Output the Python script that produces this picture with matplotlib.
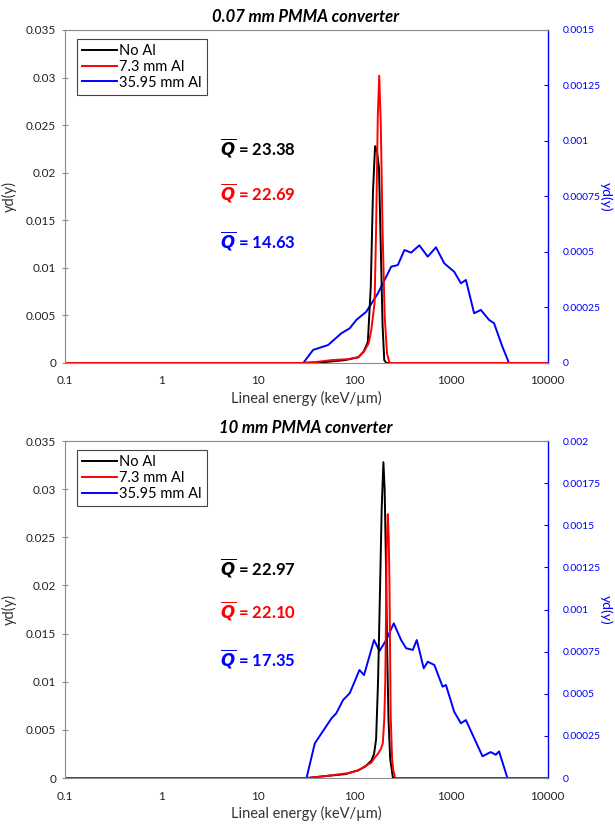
import numpy as np
import matplotlib
matplotlib.use("Agg")
import matplotlib.pyplot as plt

plt.rcParams['font.family'] = ['Lato', 'DejaVu Sans']
plt.rcParams['mathtext.fontset'] = 'dejavusans'

# ---- top panel: 0.07 mm PMMA converter ----
top_black_x = [0.1, 30, 50, 80, 110, 125, 138, 148, 156, 164, 172, 180, 188, 196, 204, 215, 10000]
top_black_y = [0, 0, 0.0001, 0.0003, 0.0006, 0.0012, 0.0022, 0.008, 0.018, 0.0228, 0.0222, 0.0205, 0.012, 0.004, 0.0003, 0, 0]

top_red_x = [0.1, 28, 40, 58, 86, 110, 126, 141, 150, 162, 168, 175, 181, 188, 196, 206, 218, 231, 10000]
top_red_y = [0, 0, 0.0001, 0.0003, 0.0004, 0.0006, 0.0012, 0.0021, 0.0035, 0.0063, 0.014, 0.026, 0.0302, 0.025, 0.014, 0.005, 0.001, 0, 0]

top_blue_x = [0.1, 29.6, 37.5, 53.6, 73.5, 89.5, 105, 133, 175, 241, 282, 330, 387, 471, 575,
              700, 853, 1081, 1268, 1429, 1738, 2038, 2483, 2795, 3412, 3990, 10000]
top_blue_y = [0, 0, 5.9e-5, 8.1e-5, 1.34e-4, 1.56e-4, 1.94e-4, 2.31e-4, 3.13e-4, 4.34e-4, 4.41e-4,
              5.09e-4, 4.97e-4, 5.3e-4, 4.79e-4, 5.21e-4, 4.49e-4, 4.11e-4, 3.59e-4, 3.74e-4,
              2.24e-4, 2.39e-4, 1.94e-4, 1.79e-4, 7.3e-5, 0, 0]

# ---- bottom panel: 10 mm PMMA converter ----
bot_black_x = [0.1, 32, 50, 80, 110, 130, 150, 160, 168, 176, 184, 192, 200, 206, 212, 219, 226, 235, 251, 10000]
bot_black_y = [0, 0, 0.0002, 0.0004, 0.0008, 0.0012, 0.0018, 0.0025, 0.004, 0.010, 0.019, 0.028, 0.0328,
               0.030, 0.023, 0.013, 0.006, 0.002, 0, 0]

bot_red_x = [0.1, 33, 50, 86, 110, 128, 150, 162, 175, 188, 197, 204, 209, 213, 216, 222, 227, 231,
             238, 246, 253, 265, 10000]
bot_red_y = [0, 0, 0.0002, 0.0005, 0.0008, 0.0012, 0.0016, 0.0021, 0.0025, 0.003, 0.0036, 0.006,
             0.0099, 0.017, 0.0237, 0.0274, 0.025, 0.0203, 0.0064, 0.002, 0.0008, 0, 0]

bot_blue_x = [0.1, 32, 39, 45.7, 58, 65, 76.5, 89.6, 113, 126, 160, 182, 214, 256, 305, 344, 403, 443,
              523, 575, 673, 820, 888, 1081, 1268, 1429, 1738, 2122, 2583, 2911, 3148, 3846, 10000]
bot_blue_y = [0, 0, 2.06e-4, 2.65e-4, 3.54e-4, 3.84e-4, 4.63e-4, 5.03e-4, 6.41e-4, 6.11e-4, 8.19e-4,
              7.54e-4, 8.19e-4, 9.18e-4, 8.19e-4, 7.7e-4, 7.6e-4, 8.19e-4, 6.51e-4, 6.9e-4, 6.71e-4,
              5.42e-4, 5.52e-4, 3.93e-4, 3.25e-4, 3.44e-4, 2.37e-4, 1.29e-4, 1.54e-4, 1.38e-4,
              1.58e-4, 0, 0]

labels = ["No Al", "7.3 mm Al", "35.95 mm Al"]
qbar_top = ["23.38", "22.69", "14.63"]
qbar_bot = ["22.97", "22.10", "17.35"]

left_ticks = [0, 0.005, 0.01, 0.015, 0.02, 0.025, 0.03, 0.035]
left_ticklabels = ["0", "0.005", "0.01", "0.015", "0.02", "0.025", "0.03", "0.035"]
top_right_ticks = [0, 0.00025, 0.0005, 0.00075, 0.001, 0.00125, 0.0015]
top_right_labels = ["0", "0.00025", "0.0005", "0.00075", "0.001", "0.00125", "0.0015"]
bot_right_ticks = [0, 0.00025, 0.0005, 0.00075, 0.001, 0.00125, 0.0015, 0.00175, 0.002]
bot_right_labels = ["0", "0.00025", "0.0005", "0.00075", "0.001", "0.00125", "0.0015", "0.00175", "0.002"]
x_ticks = [0.1, 1, 10, 100, 1000, 10000]
x_ticklabels = ["0.1", "1", "10", "100", "1000", "10000"]

BLUE = "#0000FF"
RED = "#FF0000"
GRAY = "#8c8c8c"

fig = plt.figure(figsize=(6.15, 8.24), dpi=100)


def panel(rect, title, bx, by, rx, ry, ux, uy, rticks, rlabels, qvals, qy):
    ax = fig.add_axes(rect)
    ax2 = ax.twinx()
    ax.set_zorder(ax2.get_zorder() + 1)
    ax.patch.set_visible(False)

    ax.plot(bx, by, color="black", lw=1.4, label=labels[0])
    ax.plot(rx, ry, color=RED, lw=1.4, label=labels[1])
    ax2.plot(ux, uy, color=BLUE, lw=1.4)
    ax.plot([], [], color=BLUE, lw=1.4, label=labels[2])

    for a in (ax, ax2):
        a.set_xscale("log")
        a.set_xlim(0.1, 10000)
    ax.set_ylim(0, 0.035)
    ax2.set_ylim(0, rticks[-1])

    ax.set_xticks(x_ticks)
    ax.set_xticklabels(x_ticklabels)
    ax.xaxis.set_minor_locator(plt.NullLocator())
    ax.set_yticks(left_ticks)
    ax.set_yticklabels(left_ticklabels)
    ax.tick_params(axis="y", direction="inout", length=4, width=0.8, color=GRAY,
                   labelsize=8.5, pad=4, labelcolor="#222222")
    ax.tick_params(axis="x", length=0, labelsize=8.5, pad=9, labelcolor="#222222")

    ax2.set_yticks(rticks)
    ax2.set_yticklabels(rlabels)
    ax2.tick_params(axis="y", colors=BLUE, direction="in", length=3, width=0.8,
                    labelsize=7.5, pad=11)

    for s in ax.spines.values():
        s.set_color(GRAY)
        s.set_linewidth(0.8)
    for s in ax2.spines.values():
        s.set_visible(False)
    ax.spines["right"].set_visible(False)
    ax2.spines["right"].set_visible(True)
    ax2.spines["right"].set_color(BLUE)
    ax2.spines["right"].set_linewidth(1.0)

    ax.set_xlabel("Lineal energy (keV/\u00b5m)", fontsize=10.5, color="#333333", labelpad=3)
    ax.set_ylabel("yd(y)", fontsize=10.5, color="#333333")
    ax.yaxis.set_label_coords(-0.098, 0.5)
    ax2.set_ylabel("yd(y)", fontsize=10, color=BLUE, rotation=270, va="center")
    ax2.yaxis.set_label_coords(1.122, 0.5)

    ax.set_title(title, fontsize=12, fontweight="bold", fontstyle="italic", pad=6)

    leg = ax.legend(loc="upper left", bbox_to_anchor=(0.026, 0.973), fontsize=10.5,
                    frameon=True, fancybox=False, edgecolor="#444444", framealpha=1,
                    handlelength=2.4, handletextpad=0.15, borderpad=0.35, labelspacing=0.12,
                    borderaxespad=0)
    leg.get_frame().set_linewidth(0.8)

    for val, yy, col in zip(qvals, qy, ["black", RED, BLUE]):
        ax.text(0.322, yy, r"$\overline{\mathbfit{Q}}$" + " = " + val, transform=ax.transAxes,
                fontsize=12, fontweight="bold", color=col, va="center", ha="left")
    return ax


panel([0.1049, 0.5595, 0.7854, 0.4041], "0.07 mm PMMA converter",
      top_black_x, top_black_y, top_red_x, top_red_y, top_blue_x, top_blue_y,
      top_right_ticks, top_right_labels, qbar_top, [0.646, 0.511, 0.369])

panel([0.1049, 0.0558, 0.7854, 0.409], "10 mm PMMA converter",
      bot_black_x, bot_black_y, bot_red_x, bot_red_y, bot_blue_x, bot_blue_y,
      bot_right_ticks, bot_right_labels, qbar_bot, [0.626, 0.496, 0.356])

fig.savefig("out.png", dpi=100)
